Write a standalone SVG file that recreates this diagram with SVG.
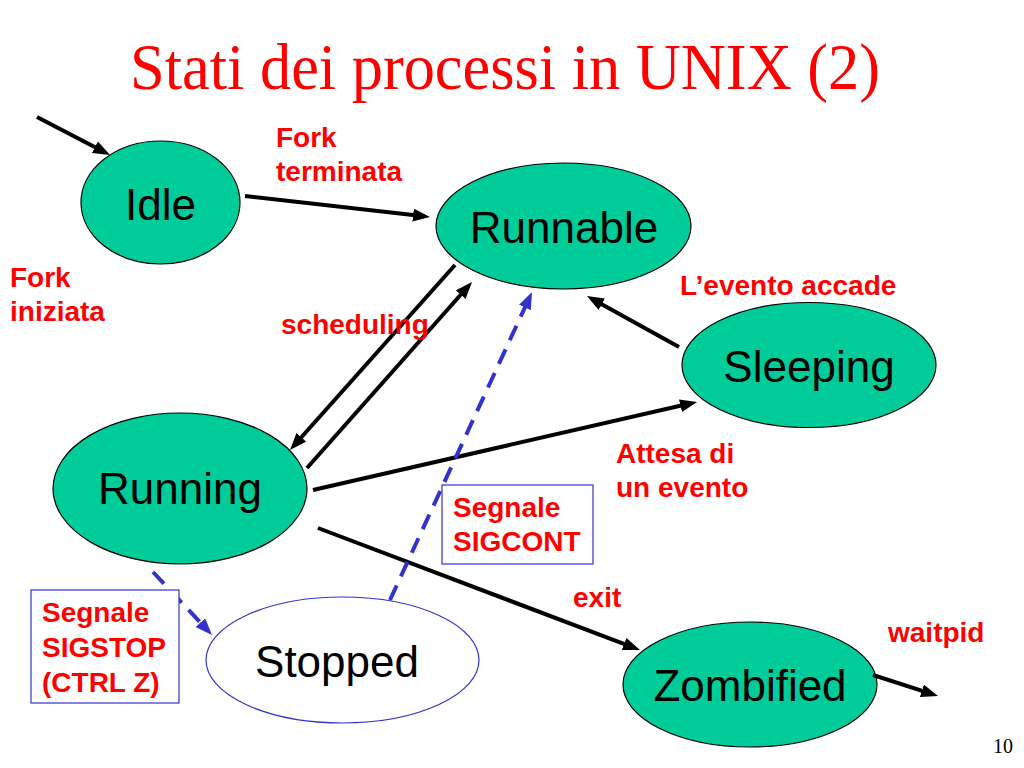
<svg xmlns="http://www.w3.org/2000/svg" width="1024" height="768" viewBox="0 0 1024 768">
<style>
.node{fill:#00CC99;stroke:#000;stroke-width:1.2}
.ntext{font-family:"Liberation Sans",Arial,sans-serif;font-size:44px;fill:#000;text-anchor:middle}
.lbl{font-family:"Liberation Sans",Arial,sans-serif;font-size:28px;font-weight:bold;fill:#FF0000}
.arr{stroke:#000;stroke-width:4;fill:none;marker-end:url(#ah)}
.darr{stroke:#3333CC;stroke-width:4;fill:none;stroke-dasharray:16 10;marker-end:url(#bh)}
.box{fill:#fff;stroke:#3333CC;stroke-width:1.2}
</style>
<defs>
<marker id="ah" markerUnits="userSpaceOnUse" markerWidth="17" markerHeight="13" refX="11" refY="6.5" orient="auto"><path d="M0,0 L17,6.5 L0,13 z" fill="#000"/></marker>
<marker id="bh" markerUnits="userSpaceOnUse" markerWidth="17" markerHeight="13" refX="11" refY="6.5" orient="auto"><path d="M0,0 L17,6.5 L0,13 z" fill="#3333CC"/></marker>
</defs>
<rect width="1024" height="768" fill="#fff"/>
<text x="505" y="89" font-family="'Liberation Serif','Times New Roman',serif" font-size="66" fill="#FF0000" text-anchor="middle" textLength="750" lengthAdjust="spacingAndGlyphs">Stati dei processi in UNIX (2)</text>
<text x="1013" y="753" font-family="'Liberation Serif','Times New Roman',serif" font-size="20" fill="#000" text-anchor="end">10</text>

<g id="idle"><ellipse class="node" cx="160.5" cy="202.5" rx="79.5" ry="61.5"/><text class="ntext" x="160.5" y="220">Idle</text></g>
<g id="runnable"><ellipse class="node" cx="563.5" cy="226" rx="127.5" ry="63"/><text class="ntext" x="564" y="243">Runnable</text></g>
<g id="sleeping"><ellipse class="node" cx="809" cy="365" rx="127" ry="62.5"/><text class="ntext" x="809" y="382">Sleeping</text></g>
<g id="running"><ellipse class="node" cx="180" cy="488.5" rx="127" ry="75.5"/><text class="ntext" x="180" y="504">Running</text></g>
<g id="zombified"><ellipse class="node" cx="750" cy="684.5" rx="127" ry="62.5"/><text class="ntext" x="750" y="701">Zombified</text></g>
<g id="stopped"><ellipse cx="342.5" cy="660" rx="136.5" ry="63" fill="#fff" stroke="#3333CC" stroke-width="1.2"/><text class="ntext" x="337" y="677">Stopped</text></g>

<g id="connectors">
<line class="arr" x1="37" y1="117" x2="104.7" y2="152.2"/>
<line class="arr" x1="245" y1="196" x2="424" y2="216.3"/>
<line class="arr" x1="455" y1="265" x2="294" y2="445.5"/>
<line class="arr" x1="307" y1="468" x2="468" y2="286.5"/>
<line class="arr" x1="313" y1="490" x2="691.2" y2="403.3"/>
<line class="arr" x1="679" y1="347" x2="592.2" y2="298.9"/>
<line class="arr" x1="318" y1="528" x2="634.4" y2="647.9"/>
<line class="arr" x1="873" y1="675" x2="932.3" y2="694.2"/>
<line class="darr" x1="390" y1="600" x2="529.5" y2="297.5"/>
<line class="darr" x1="153" y1="572" x2="207.9" y2="630.6"/>
</g>

<g id="labels">
<text class="lbl" x="276" y="147">Fork</text>
<text class="lbl" x="276" y="181">terminata</text>
<text class="lbl" x="10" y="287">Fork</text>
<text class="lbl" x="10" y="321">iniziata</text>
<text class="lbl" x="281" y="334">scheduling</text>
<text class="lbl" x="680" y="295">L’evento accade</text>
<text class="lbl" x="616" y="463">Attesa di</text>
<text class="lbl" x="616" y="497">un evento</text>
<text class="lbl" x="573" y="607">exit</text>
<text class="lbl" x="888" y="642">waitpid</text>
</g>
<g id="sigcont-box"><rect class="box" x="442" y="485" width="151" height="79"/>
<text class="lbl" x="453" y="517">Segnale</text>
<text class="lbl" x="453" y="551">SIGCONT</text></g>
<g id="sigstop-box"><rect class="box" x="31" y="590" width="148" height="113"/>
<text class="lbl" x="42" y="622">Segnale</text>
<text class="lbl" x="42" y="657">SIGSTOP</text>
<text class="lbl" x="42" y="692">(CTRL Z)</text></g>
</svg>
